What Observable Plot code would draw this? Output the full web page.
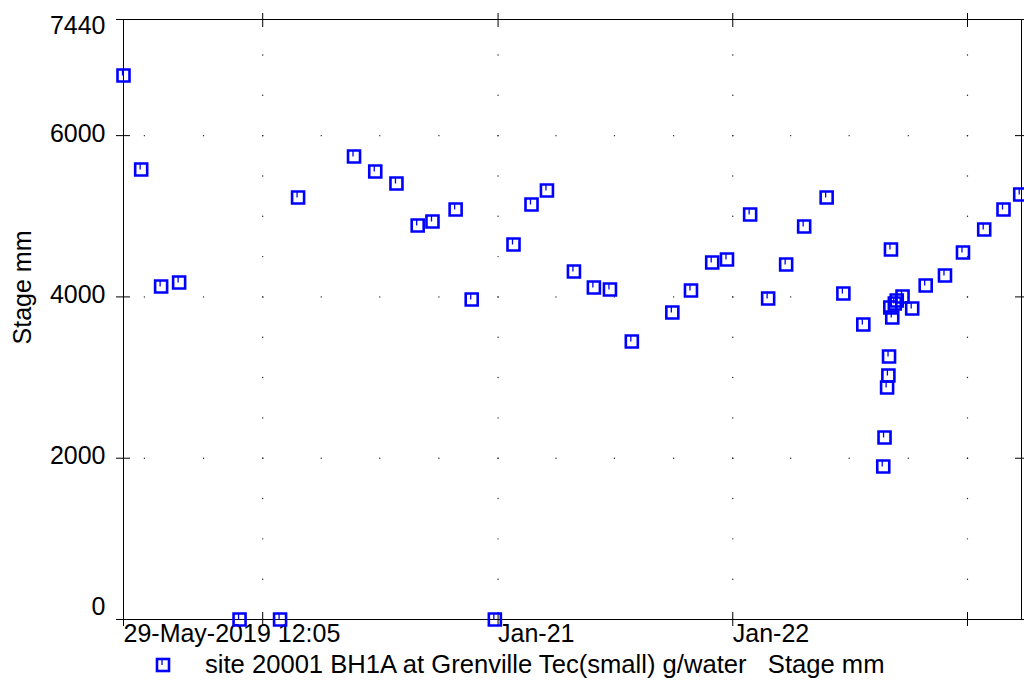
<!DOCTYPE html>
<html><head><meta charset="utf-8">
<script src="https://cdn.jsdelivr.net/npm/d3@7"></script>
<script src="https://cdn.jsdelivr.net/npm/@observablehq/plot@0.6"></script>
<style>
html,body{margin:0;padding:0;background:#fff;}
#chart svg{display:block;}
#legend{position:relative;width:1024px;height:34px;font:25.6px "Liberation Sans",Arial,sans-serif;color:#000;}
#legend .txt{position:absolute;left:205px;top:0;line-height:32px;white-space:pre;}
#legend svg{position:absolute;left:155px;top:9px;}
</style></head><body>
<div id="chart"></div>
<div id="legend"></div>
<script>
// ---- data ----
const dates = ["2019-05-29T12:05Z","2019-06-26","2019-07-27","2019-08-24","2019-11-26",
  "2020-01-28","2020-02-25","2020-05-22","2020-06-24","2020-07-27","2020-08-29","2020-09-21","2020-10-27","2020-11-21","2020-12-27",
  "2021-01-25","2021-02-22","2021-03-18","2021-04-29","2021-05-30","2021-06-24","2021-07-28","2021-09-29","2021-10-28","2021-11-30","2021-12-23",
  "2022-01-28","2022-02-25","2022-03-25","2022-04-22","2022-05-27","2022-06-22","2022-07-23",
  "2022-08-23","2022-08-25","2022-08-29","2022-08-31","2022-09-01","2022-09-04","2022-09-03","2022-09-06","2022-09-10","2022-09-13","2022-09-22","2022-10-07",
  "2022-10-28","2022-11-27","2022-12-25","2023-01-27","2023-02-26","2023-03-24"];
const values = [6745,5580,4129,4179,0,
  0,5232,5741,5555,5406,4885,4935,5084,3968,0,
  4650,5146,5319,4315,4117,4092,3447,3807,4079,4427,4464,
  5022,3980,4402,4873,5232,4042,3658,
  1897,2257,2877,3025,3261,4588,3868,3745,3918,3955,4005,3856,
  4141,4265,4550,4836,5084,5270];
const xDomain = ["2019-05-29T12:05Z","2023-03-26"];
const yDomain = [0, 7440];
const yTicks = [0, 2000, 4000, 6000, 7440];
const yearTicks = ["2020-01-01","2021-01-01","2022-01-01","2023-01-01"];
const xLabelDates = ["2019-05-29T12:05Z","2021-01-01","2022-01-01"];
const xLabelTexts = ["29-May-2019 12:05","Jan-21","Jan-22"];
const gridStep = 500;
const seriesName = "site 20001 BH1A at Grenville Tec(small) g/water   Stage mm";
const yLabel = "Stage mm";

// ---- build ----
const data = dates.map((d, i) => ({date: new Date(d), value: values[i]}));
const xD = xDomain.map(d => new Date(d));
const years = yearTicks.map(d => new Date(d));
const xLab = xLabelDates.map(d => new Date(d));
const bottomTicks = [xD[0], ...years];
const quarters = d3.utcMonth.every(3).range(d3.utcMonth.every(3).ceil(xD[0]), xD[1]);
const hGrid = quarters.flatMap(q => [2000, 4000, 6000].map(v => ({date: q, value: v})));
const vGrid = years.flatMap(yr => d3.range(0, yDomain[1], gridStep).map(v => ({date: yr, value: v})));

const squareSym = {draw(ctx, size) { const r = Math.sqrt(size / Math.PI);
  ctx.moveTo(-r, -r); ctx.lineTo(r, -r); ctx.lineTo(r, r); ctx.lineTo(-r, r); ctx.closePath(); }};
const tickSym = {draw(ctx, size) { const r = Math.sqrt(size / Math.PI);
  ctx.moveTo(-1, -r); ctx.lineTo(-1, 0); }};

const blue = "#0000ff";
const noText = () => "";
const font = "Liberation Sans, Arial, sans-serif";

const chart = Plot.plot({
  width: 1024, height: 648,
  marginLeft: 123, marginRight: 3, marginTop: 19, marginBottom: 29,
  style: {fontFamily: font, fontSize: "25px", color: "#000", background: "#fff"},
  x: {type: "utc", domain: xD},
  y: {domain: yDomain},
  marks: [
    Plot.dot(hGrid, {x: "date", y: "value", r: 0.7, fill: "#222", stroke: null}),
    Plot.dot(vGrid, {x: "date", y: "value", r: 0.7, fill: "#222", stroke: null}),
    Plot.frame({stroke: "#000", strokeWidth: 1}),
    // tick marks crossing the frame
    Plot.axisX({anchor: "bottom", ticks: bottomTicks, tickSize: 14, dy: -7, tickFormat: noText, label: null, stroke: "#000"}),
    Plot.axisX({anchor: "top", ticks: years, tickSize: 14, dy: 7, tickFormat: noText, label: null, stroke: "#000"}),
    Plot.axisY({anchor: "left", ticks: yTicks, tickSize: 14, dx: 7, tickFormat: noText, label: null, stroke: "#000"}),
    Plot.axisY({anchor: "right", ticks: yTicks, tickSize: 14, dx: -7, tickFormat: noText, label: null, stroke: "#000"}),
    // tick labels
    Plot.axisX({anchor: "bottom", ticks: xLab, tickSize: 0, tickPadding: 5, textAnchor: "start",
      tickFormat: d => xLabelTexts[xLab.findIndex(t => +t === +d)], label: null, fontSize: 25, fill: "#000"}),
    Plot.axisY({anchor: "left", ticks: yTicks.slice(1, -1), tickSize: 0, tickPadding: 18, dy: -2, label: null, fontSize: 25, fill: "#000", tickFormat: d => String(d)}),
    Plot.axisY({anchor: "left", ticks: [yTicks[0]], tickSize: 0, tickPadding: 18, dy: -13, label: null, fontSize: 25, fill: "#000", tickFormat: d => String(d)}),
    Plot.axisY({anchor: "left", ticks: [yTicks[yTicks.length - 1]], tickSize: 0, tickPadding: 18, dy: 6, label: null, fontSize: 25, fill: "#000", tickFormat: d => String(d)}),
    Plot.text([yLabel], {frameAnchor: "left", text: d => d, rotate: -90, textAnchor: "middle", lineAnchor: "middle", dx: -101, dy: -32, fontSize: 25, fill: "#000"}),
    // data
    Plot.dot(data, {x: "date", y: "value", symbol: squareSym, r: 6, stroke: blue, strokeWidth: 2.6, fill: "none"}),
    Plot.dot(data, {x: "date", y: "value", symbol: tickSym, r: 6, stroke: blue, strokeWidth: 1.3, fill: "none"})
  ]
});
document.getElementById("chart").appendChild(chart);

const legend = document.getElementById("legend");
legend.innerHTML = `<svg width="16" height="16" viewBox="0 0 16 16"><rect x="2" y="2" width="12" height="12" fill="none" stroke="${blue}" stroke-width="2.6"/><path d="M7,2V8" stroke="${blue}" stroke-width="1.3"/></svg><span class="txt"></span>`;
legend.querySelector(".txt").textContent = seriesName;
</script>
</body></html>
